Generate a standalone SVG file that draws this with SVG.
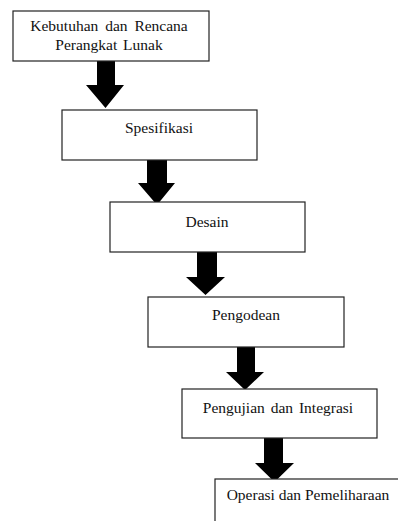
<svg xmlns="http://www.w3.org/2000/svg" width="398" height="521" viewBox="0 0 398 521">
<style>
.box{fill:#fff;stroke:#222;stroke-width:1.2}
.arr{fill:#000}
</style>
<rect width="398" height="521" fill="#fff"/>
<g id="connectors">
<polygon class="arr" points="97,61 115,61 115,85 124,85 105.5,108 86,85 97,85"/>
<polygon class="arr" points="147,160 167,160 167,183 175,183 157,205 138,183 147,183"/>
<polygon class="arr" points="197,252 217,252 217,277 225,277 205.5,295 186,277 197,277"/>
<polygon class="arr" points="237,347 255,347 255,372 264,372 245,390 226,372 237,372"/>
<polygon class="arr" points="264,438 283,438 283,463 294,463 274.5,482 255,463 264,463"/>
</g>
<g font-family="'Liberation Serif', 'DejaVu Serif', 'Times New Roman', serif" font-size="15.5" fill="#111" text-anchor="middle">
<g id="n1">
<rect class="box" x="13" y="11" width="196" height="50"/>
<text x="109" y="31" word-spacing="3">Kebutuhan dan Rencana</text>
<text x="109" y="50" word-spacing="2">Perangkat Lunak</text>
</g>
<g id="n2">
<rect class="box" x="62" y="110" width="195" height="50"/>
<text x="159" y="133">Spesifikasi</text>
</g>
<g id="n3">
<rect class="box" x="110" y="202" width="195" height="50"/>
<text x="207" y="227">Desain</text>
</g>
<g id="n4">
<rect class="box" x="148" y="297" width="196" height="50"/>
<text x="246" y="320">Pengodean</text>
</g>
<g id="n5">
<rect class="box" x="182" y="389" width="195" height="49"/>
<text x="278" y="413" word-spacing="2">Pengujian dan Integrasi</text>
</g>
<g id="n6">
<rect class="box" x="215" y="479" width="200" height="60"/>
<text x="308" y="500">Operasi dan Pemeliharaan</text>
</g>
</g>
</svg>
